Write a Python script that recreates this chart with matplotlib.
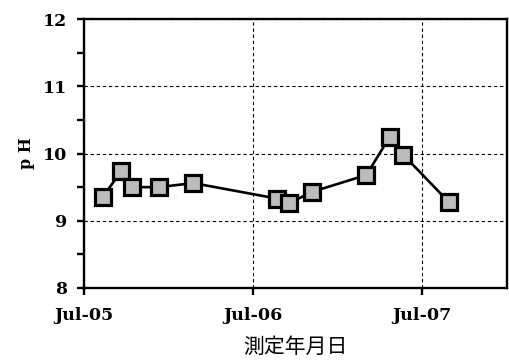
import datetime
import matplotlib
matplotlib.use('Agg')
import matplotlib.pyplot as plt
from matplotlib.ticker import MultipleLocator

# sampling dates and measured pH
dates = ['2005-08-11', '2005-09-20', '2005-10-12', '2005-12-10', '2006-02-22',
         '2006-08-22', '2006-09-17', '2006-11-06', '2007-03-03', '2007-04-23',
         '2007-05-22', '2007-08-28']
ph = [9.36, 9.74, 9.50, 9.50, 9.56, 9.33, 9.26, 9.43, 9.68, 10.25, 9.98, 9.28]
tick_dates = ['2005-07-01', '2006-07-01', '2007-07-01']
tick_labels = ['Jul-05', 'Jul-06', 'Jul-07']


def to_dt(s):
    return datetime.datetime.strptime(s, '%Y-%m-%d')


def main():
    serif = {'family': 'DejaVu Serif', 'weight': 'bold', 'size': 12.5}

    fig = plt.figure(figsize=(5.09, 3.63), dpi=100)
    ax = fig.add_axes([84 / 509, 1 - 288 / 363, (507 - 84) / 509, (288 - 19) / 363])

    x = [to_dt(d) for d in dates]
    ax.plot(x, ph, color='black', linewidth=1.9, marker='s', markersize=12,
            markerfacecolor='#bcbcbc', markeredgecolor='black', markeredgewidth=2.3,
            zorder=3)

    ax.set_xlim(to_dt('2005-07-01'), to_dt('2008-01-01'))
    ax.set_ylim(8, 12)

    ax.set_xticks([to_dt(d) for d in tick_dates])
    ax.set_xticklabels(tick_labels, fontdict=serif)
    ax.yaxis.set_major_locator(MultipleLocator(1))
    ax.yaxis.set_minor_locator(MultipleLocator(0.5))
    for lab in ax.get_yticklabels():
        lab.set_fontproperties(matplotlib.font_manager.FontProperties(**serif))

    ax.grid(True, which='major', color='black', linestyle=(0, (3, 2.5)), linewidth=0.8)
    ax.set_axisbelow(True)

    for s in ax.spines.values():
        s.set_linewidth(1.7)
    ax.tick_params(axis='x', which='major', direction='out', length=5, width=1.7, pad=9)
    ax.tick_params(axis='y', which='major', direction='out', length=5, width=1.7, pad=7)
    ax.tick_params(axis='y', which='minor', direction='out', length=5, width=1.7)

    ax.set_ylabel('p H', fontdict={'family': 'DejaVu Serif', 'weight': 'bold', 'size': 11.5},
                  labelpad=6)
    ax.set_xlabel('測定年月日', fontdict={'family': ['Noto Sans CJK JP', 'DejaVu Sans'],
                                      'size': 15}, labelpad=8)

    fig.savefig('out.png', dpi=100)
    plt.close('all')


if __name__ == '__main__':
    main()
